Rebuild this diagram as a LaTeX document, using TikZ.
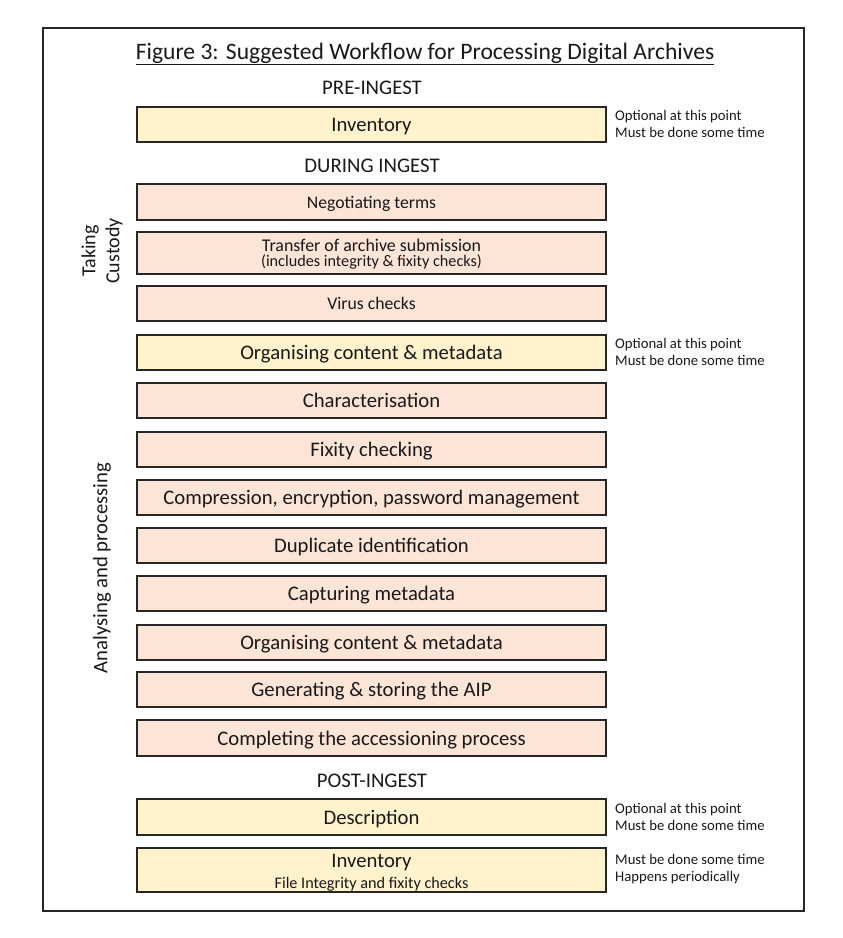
\documentclass[tikz,border=0pt]{standalone}
\usepackage{fontspec}
\setmainfont{Carlito}
\begin{document}
\begin{tikzpicture}[x=1pt,y=-1pt,
  box/.style={draw=black!85, line width=1.3pt, minimum width=469pt, inner sep=0pt, align=center, text=black!90},
  yel/.style={box, fill=yellowfill},
  pnk/.style={box, fill=pinkfill},
  hdr/.style={font=\fontsize{20.8}{24}\selectfont, text=black!90},
  note/.style={font=\fontsize{14.7}{17}\selectfont, align=left, anchor=west, inner sep=0pt, text=black!90},
  big/.style={font=\fontsize{20.7}{24}\selectfont, text depth=0pt},
  mid/.style={font=\fontsize{17.7}{21}\selectfont, text depth=0pt},
  line/.style={anchor=base, inner sep=0pt, text=black!90},
  side/.style={font=\fontsize{20}{23}\selectfont, rotate=90, align=center, text=black!90}
]
\definecolor{yellowfill}{HTML}{FFF2CC}
\definecolor{pinkfill}{HTML}{FCE4D6}
\useasboundingbox (0,0) rectangle (843,938);
\draw[line width=1.3pt, black!85] (43,28) rectangle (804,911);
\node[font=\fontsize{23.6}{27}\selectfont, text=black!90] (title) at (425,54) {\underline{Figure 3: Suggested Workflow for Processing Digital Archives}};
\node[hdr] (pre) at (372,88) {PRE-INGEST};
\node[yel, big, minimum height=35pt] (inv1) at (371.5,124.5) {Inventory};
\node[note] (n1) at (615,124) {Optional at this point\\Must be done some time};
\node[hdr] (during) at (372,166) {DURING INGEST};
\node[pnk, mid, minimum height=36pt] (neg) at (371.5,202) {Negotiating terms};
\node[pnk, minimum height=42pt] (tra) at (371.5,253) {};
\node[line, font=\fontsize{17.9}{21}\selectfont] (tra1) at (371.5,251.5) {Transfer of archive submission};
\node[line, font=\fontsize{16.2}{19}\selectfont] (tra2) at (371.5,266.5) {(includes integrity \& fixity checks)};
\node[pnk, mid, minimum height=35pt] (vir) at (371.5,303.5) {Virus checks};
\node[yel, big, minimum height=35pt] (org1) at (371.5,352.5) {Organising content \& metadata};
\node[note] (n2) at (615,352) {Optional at this point\\Must be done some time};
\node[pnk, big, minimum height=35pt] (cha) at (371.5,400.5) {Characterisation};
\node[pnk, big, minimum height=35pt] (fix) at (371.5,449.5) {Fixity checking};
\node[pnk, big, minimum height=35pt] (com) at (371.5,497.5) {Compression, encryption, password management};
\node[pnk, big, minimum height=35pt] (dup) at (371.5,545.5) {Duplicate identification};
\node[pnk, big, minimum height=35pt] (cap) at (371.5,593.5) {Capturing metadata};
\node[pnk, big, minimum height=35pt] (org2) at (371.5,642.5) {Organising content \& metadata};
\node[pnk, big, minimum height=35pt] (gen) at (371.5,689.5) {Generating \& storing the AIP};
\node[pnk, big, minimum height=36pt] (comp) at (371.5,738) {Completing the accessioning process};
\node[hdr] (post) at (372,781) {POST-INGEST};
\node[yel, big, minimum height=36pt] (desc) at (371.5,817) {Description};
\node[note] (n3) at (615,817) {Optional at this point\\Must be done some time};
\node[yel, minimum height=44pt] (inv2) at (371.5,870) {};
\node[line, font=\fontsize{20.7}{24}\selectfont] (inv2a) at (371.5,867) {Inventory};
\node[line, font=\fontsize{16.2}{19}\selectfont] (inv2b) at (371.5,888) {File Integrity and fixity checks};
\node[note] (n4) at (615,869) {Must be done some time\\Happens periodically};
\node[side, font=\fontsize{20}{24}\selectfont] (tc) at (102,251) {Taking\\Custody};
\node[side, font=\fontsize{20.7}{24}\selectfont] (ap) at (102,568) {Analysing and processing};
\end{tikzpicture}
\end{document}
